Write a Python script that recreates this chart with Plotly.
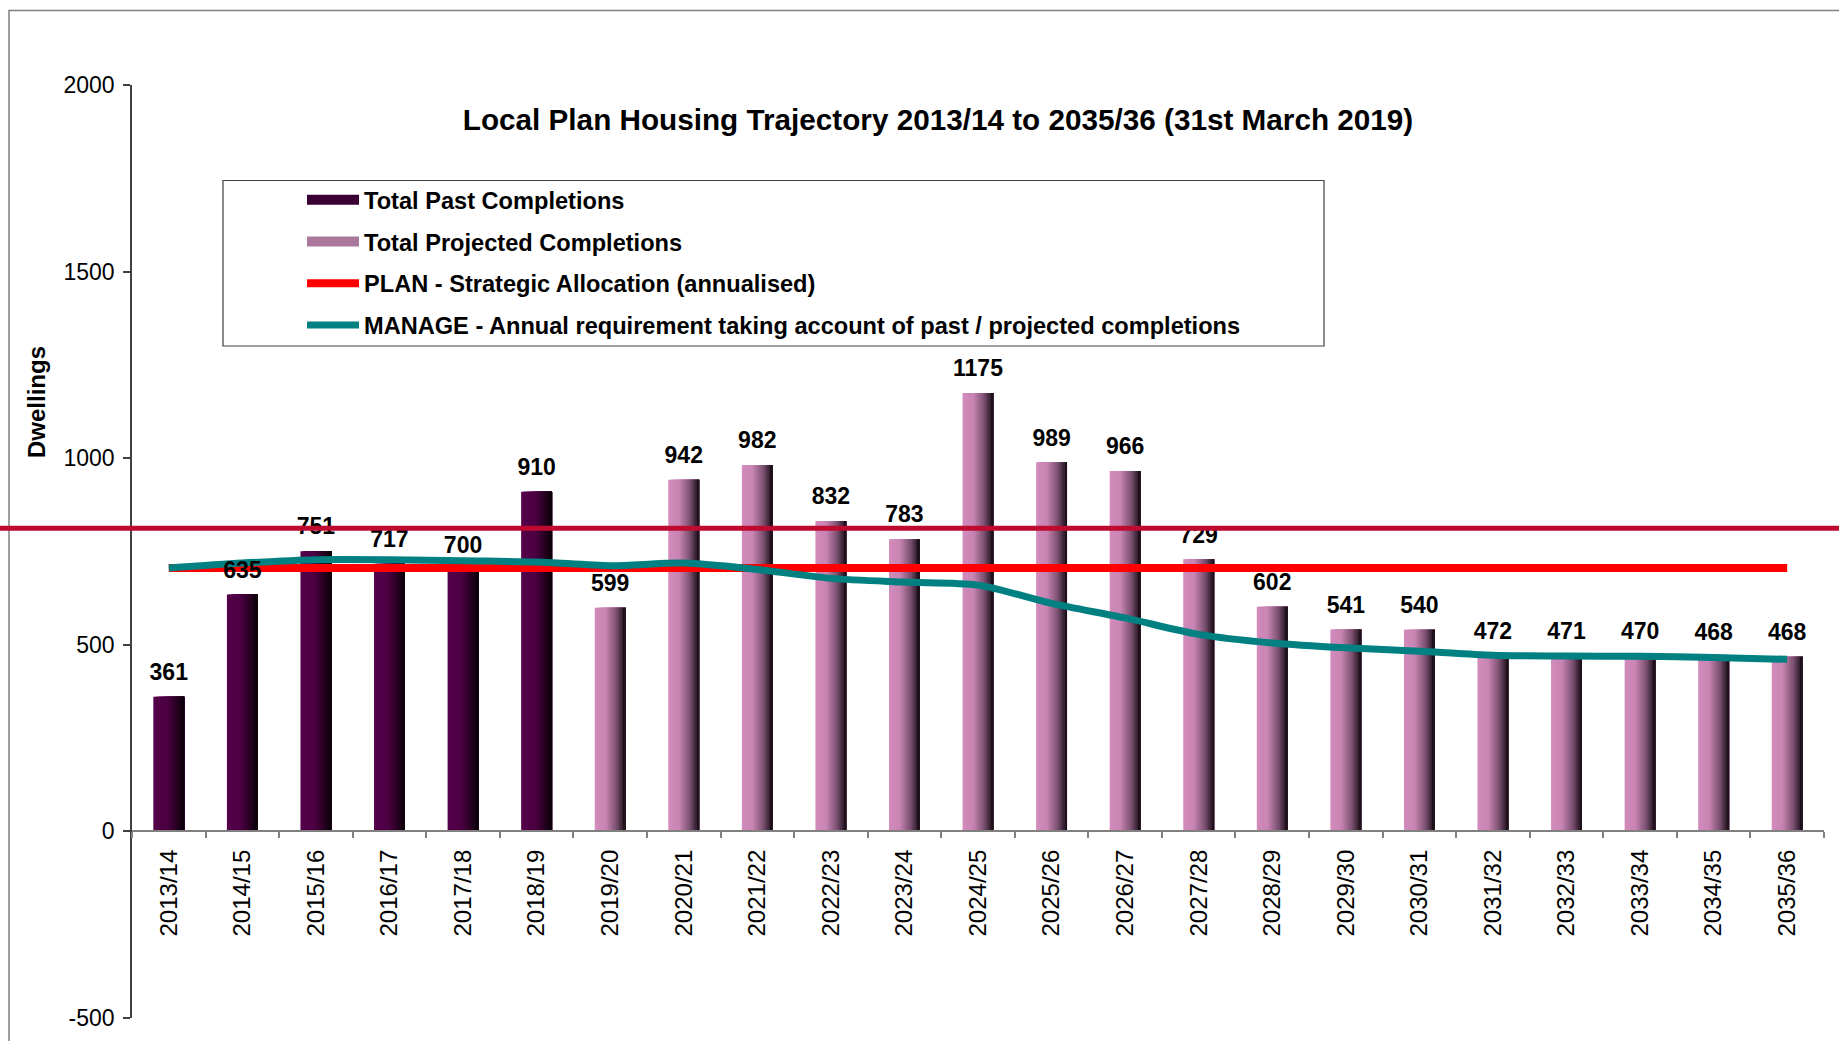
import plotly.graph_objects as go

# ---- data -----------------------------------------------------------------
years = ["2013/14", "2014/15", "2015/16", "2016/17", "2017/18", "2018/19",
         "2019/20", "2020/21", "2021/22", "2022/23", "2023/24", "2024/25",
         "2025/26", "2026/27", "2027/28", "2028/29", "2029/30", "2030/31",
         "2031/32", "2032/33", "2033/34", "2034/35", "2035/36"]

past_years = years[:6]
past_completions = [361, 635, 751, 717, 700, 910]

projected_years = years[6:]
projected_completions = [599, 942, 982, 832, 783, 1175, 989, 966, 729,
                         602, 541, 540, 472, 471, 470, 468, 468]

plan_allocation = [706, 706, 706, 706, 706, 706, 706, 706, 706, 706, 706, 706,
                   706, 706, 706, 706, 706, 706, 706, 706, 706, 706, 706]

manage_requirement = [706, 719, 728, 728, 725, 722, 712, 719, 702, 678, 668, 660,
                      611, 572, 528, 505, 492, 483, 472, 470, 469, 466, 461]

marker_level = 812          # horizontal reference rule across the chart

y_ticks = [-500, 0, 500, 1000, 1500, 2000]
y_tick_text = ["-500", "0", "500", "1000", "1500", "2000"]

# ---- styling ----------------------------------------------------------------
FONT = "Liberation Sans, Arial, sans-serif"
Y_MIN, Y_MAX = -500, 2000
BAR_W = 0.42
N_STRIPS = 16

past_stops = [(0.0, (0x55, 0x00, 0x4A)), (0.45, (0x4C, 0x00, 0x43)),
              (1.0, (0x0A, 0x00, 0x08))]
proj_stops = [(0.0, (0xD3, 0x8C, 0xBC)), (0.35, (0xC8, 0x84, 0xB3)),
              (0.7, (0x7A, 0x50, 0x70)), (1.0, (0x14, 0x0A, 0x12))]


def blend(stops, t):
    for (t0, c0), (t1, c1) in zip(stops[:-1], stops[1:]):
        if t <= t1:
            f = (t - t0) / (t1 - t0) if t1 > t0 else 0
            r, g, b = (round(a + (b_ - a) * f) for a, b_ in zip(c0, c1))
            return f"rgb({r},{g},{b})"
    r, g, b = stops[-1][1]
    return f"rgb({r},{g},{b})"


fig = go.Figure()

bar_series = [
    ("Total Past Completions", "past", past_years, past_completions, past_stops, "#3A0034"),
    ("Total Projected Completions", "proj", projected_years, projected_completions, proj_stops, "#A9789C"),
]

# Bars are built from overlapping vertical strips to give a left-to-right shade.
for name, group, xs, ys, stops, _ in bar_series:
    for k in range(N_STRIPS):
        start = k * BAR_W / N_STRIPS
        fig.add_trace(go.Bar(
            x=xs, y=ys,
            offset=-BAR_W / 2 + start,
            width=BAR_W - start,
            marker=dict(color=blend(stops, (k + 0.5) / N_STRIPS), line=dict(width=0)),
            name=name, legendgroup=group, showlegend=False,
            hoverinfo="skip" if k else None,
        ))

# Wide legend swatches for the bar series (toggle the whole bar group)
for name, group, _, _, _, swatch in bar_series:
    fig.add_trace(go.Scatter(
        x=[None], y=[None], mode="lines",
        line=dict(color=swatch, width=12),
        name=name, legendgroup=group, showlegend=True, hoverinfo="skip",
    ))

fig.add_trace(go.Scatter(
    x=years, y=plan_allocation, mode="lines",
    line=dict(color="#FF0000", width=8),
    name="PLAN - Strategic Allocation (annualised)", legendgroup="plan",
))
fig.add_trace(go.Scatter(
    x=years, y=manage_requirement, mode="lines",
    line=dict(color="#008080", width=7, shape="spline", smoothing=0.8),
    name="MANAGE - Annual requirement taking account of past / projected completions",
    legendgroup="manage",
))

# Value labels above each bar (drawn over the lines)
all_values = past_completions + projected_completions
fig.add_trace(go.Scatter(
    x=years, y=all_values, mode="markers+text",
    text=[str(v) for v in all_values], textposition="top center",
    marker=dict(size=16, opacity=0),
    textfont=dict(family=FONT, size=23, color="black", weight="bold"),
    showlegend=False, hoverinfo="skip",
))

# ---- layout -----------------------------------------------------------------
W, H = 1839, 1041
ML, MR, MT, MB = 132, 15, 85, 23
pw, ph = W - ML - MR, H - MT - MB


def px_x(px):
    return (px - ML) / pw


def px_y(py):
    return (H - MB - py) / ph


zero_pos = (0 - Y_MIN) / (Y_MAX - Y_MIN)

fig.update_layout(
    width=W, height=H,
    margin=dict(l=ML, r=MR, t=MT, b=MB, pad=0, autoexpand=False),
    paper_bgcolor="white", plot_bgcolor="white",
    barmode="overlay",
    font=dict(family=FONT, color="black"),
    title=dict(
        text="Local Plan Housing Trajectory 2013/14 to 2035/36 (31st March 2019)",
        font=dict(family=FONT, size=29.7, color="black", weight="bold"),
        xref="paper", x=px_x(938), xanchor="center",
        yref="container", y=1 - 120 / H, yanchor="middle",
    ),
    legend=dict(
        x=px_x(302), y=px_y(178), xanchor="left", yanchor="top",
        bgcolor="rgba(0,0,0,0)", borderwidth=0,
        font=dict(family=FONT, size=23.6, color="black", weight="bold"),
        itemwidth=52, traceorder="grouped", tracegroupgap=8,
    ),
    xaxis=dict(
        type="category", categoryorder="array", categoryarray=years,
        range=[-0.5, len(years) - 0.5], automargin=False,
        anchor="free", position=zero_pos,
        showline=True, linecolor="#808080", linewidth=1.5,
        ticks="outside", ticklen=6, tickcolor="#808080", tickwidth=1.5,
        tickson="boundaries", tickangle=-90, ticklabelstandoff=8,
        tickfont=dict(family=FONT, size=24, color="black"),
        showgrid=False, zeroline=False,
    ),
    yaxis=dict(
        range=[Y_MIN, Y_MAX], tickvals=y_ticks, ticktext=y_tick_text,
        automargin=False,
        showline=True, linecolor="#404040", linewidth=1.5,
        ticks="outside", ticklen=7, tickcolor="#404040", tickwidth=1.5,
        tickfont=dict(family=FONT, size=23, color="black"),
        ticklabelstandoff=4,
        showgrid=False, zeroline=False,
    ),
    showlegend=True,
)

fig.add_annotation(
    text="<b>Dwellings</b>", textangle=-90,
    xref="paper", yref="paper", x=px_x(36), y=px_y(402),
    xanchor="center", yanchor="middle", showarrow=False,
    font=dict(family=FONT, size=24, color="black"),
)

# outer chart frame (left and top edges visible)
fl, ft = px_x(9), px_y(10.5)
fig.add_shape(type="path", xref="paper", yref="paper",
              path=f"M {fl},-0.2 L {fl},{ft} L 1.2,{ft}",
              line=dict(color="#7F7F7F", width=1.5), layer="above")

# legend box
fig.add_shape(type="rect", xref="paper", yref="paper",
              x0=px_x(223), x1=px_x(1324), y0=px_y(346), y1=px_y(180.5),
              line=dict(color="#404040", width=1.2), fillcolor="rgba(0,0,0,0)",
              layer="above")

# reference rule across the full width
fig.add_shape(type="line", xref="paper", yref="y",
              x0=-0.2, x1=1.2, y0=marker_level, y1=marker_level,
              line=dict(color="#BF0A30", width=5), layer="above")

fig.write_html("out.html")
